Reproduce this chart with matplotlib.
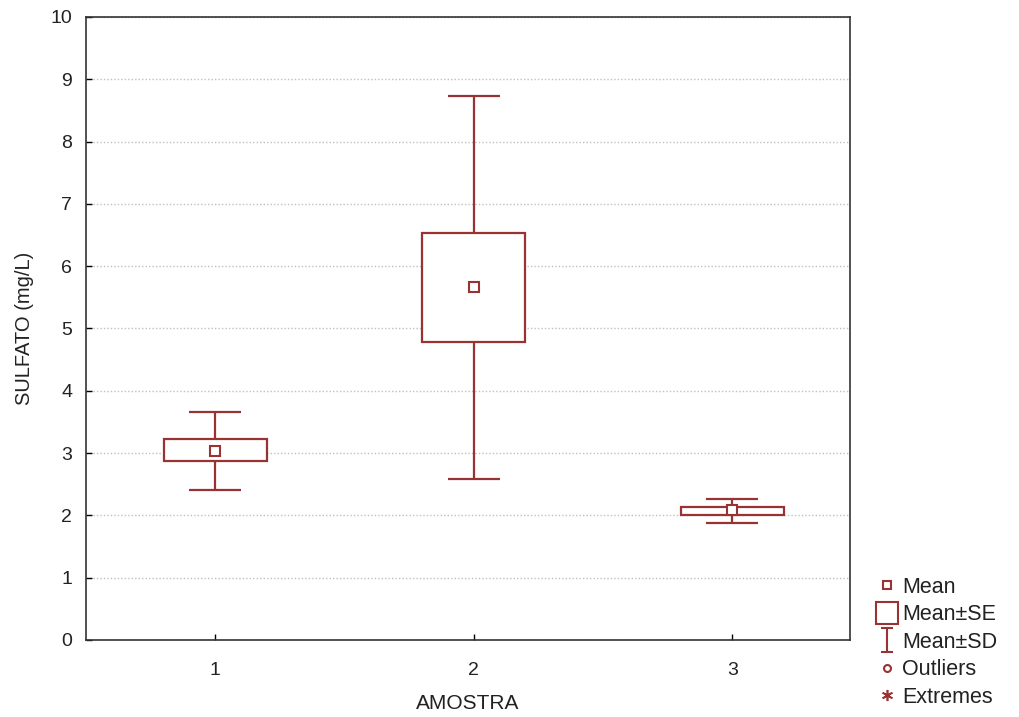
import matplotlib
matplotlib.use("Agg")
import matplotlib.pyplot as plt
from matplotlib.lines import Line2D
from matplotlib.path import Path

plt.rcParams["font.family"] = ["Liberation Sans", "DejaVu Sans"]

# data
amostra = [1, 2, 3]
mean = [3.03, 5.66, 2.09]
se_lo = [2.87, 4.78, 2.01]
se_hi = [3.22, 6.54, 2.14]
sd_lo = [2.41, 2.59, 1.88]
sd_hi = [3.66, 8.73, 2.27]

red = "#993333"
txt = "#222222"

fig = plt.figure(figsize=(10.19, 7.17), dpi=100)
ax = fig.add_axes([0.0844, 0.1074, 0.7496, 0.8689])

# whiskers (behind the boxes)
ax.vlines(amostra, sd_lo, sd_hi, color=red, linewidth=1.6, zorder=2)
ax.hlines(sd_lo, [a - 0.1 for a in amostra], [a + 0.1 for a in amostra], color=red, linewidth=1.6, zorder=2)
ax.hlines(sd_hi, [a - 0.1 for a in amostra], [a + 0.1 for a in amostra], color=red, linewidth=1.6, zorder=2)

# mean +- SE boxes
heights = [h - l for h, l in zip(se_hi, se_lo)]
ax.bar(amostra, heights, bottom=se_lo, width=0.4, facecolor="white",
       edgecolor=red, linewidth=1.6, zorder=3)

# mean
ax.plot(amostra, mean, "s", color=red, markerfacecolor="white", markersize=7,
        markeredgewidth=1.5, zorder=4)

ax.set_xlim(0.5, 3.455)
ax.set_ylim(0, 10)
ax.set_xticks(amostra)
ax.set_yticks(range(0, 11))
ax.tick_params(direction="in", length=4, width=1, labelsize=14, labelcolor=txt)
ax.tick_params(axis="x", pad=16)
ax.tick_params(axis="y", pad=10)
ax.yaxis.grid(True, linestyle=(0, (1, 1.5)), color="#c0c0c0", linewidth=1)
ax.set_axisbelow(True)
for s in ax.spines.values():
    s.set_color("#333333")
    s.set_linewidth(1.2)

ax.set_xlabel("AMOSTRA", fontsize=15, color=txt, labelpad=11)
ax.set_ylabel("SULFATO (mg/L)", fontsize=14.5, color=txt, labelpad=12)

# legend with custom symbols
sd_marker = Path([(-0.5, 1), (0.5, 1), (0, 1), (0, -1), (-0.5, -1), (0.5, -1)],
                 [Path.MOVETO, Path.LINETO, Path.MOVETO, Path.LINETO, Path.MOVETO, Path.LINETO])
handles = [
    Line2D([], [], linestyle="none", marker="s", markersize=6, markerfacecolor="white",
           markeredgecolor=red, markeredgewidth=1.5),
    Line2D([], [], linestyle="none", marker="s", markersize=16, markerfacecolor="white",
           markeredgecolor=red, markeredgewidth=1.5),
    Line2D([], [], linestyle="none", marker=sd_marker, markersize=17,
           markeredgecolor=red, markeredgewidth=1.5),
    Line2D([], [], linestyle="none", marker="o", markersize=5, markerfacecolor="white",
           markeredgecolor=red, markeredgewidth=1.5),
    Line2D([], [], linestyle="none", marker=(6, 2, 0), markersize=8,
           markeredgecolor=red, markeredgewidth=1.2),
]
labels = ["Mean", "Mean\u00b1SE", "Mean\u00b1SD", "Outliers", "Extremes"]
fig.legend(handles, labels, loc="lower left", bbox_to_anchor=(0.848, -0.005),
           frameon=False, fontsize=15.5, labelcolor=txt, handlelength=0.9,
           handletextpad=0.25, labelspacing=0.3, borderaxespad=0.2)

fig.savefig("out.png", dpi=100)
